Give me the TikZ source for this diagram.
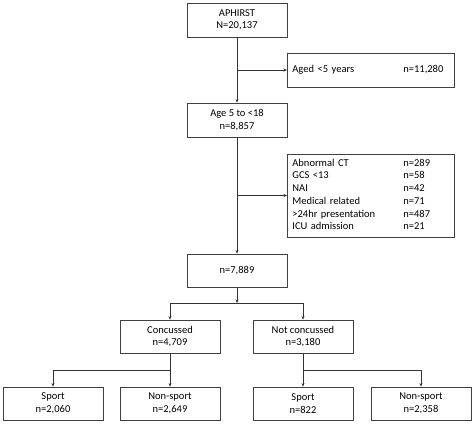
\documentclass[tikz,border=0pt]{standalone}
\usepackage{fontspec}
\setmainfont{Carlito}
\usetikzlibrary{arrows.meta}
\begin{document}
\begin{tikzpicture}[x=1pt,y=-1pt,
  box/.style={draw=black!75,line width=0.8pt,minimum width=100pt,minimum height=33pt,align=center,inner sep=0pt,font=\fontsize{10.5}{12.5}\selectfont},
  sidebox/.style={draw=black!75,line width=0.8pt,text width=157pt,inner xsep=5pt,inner ysep=3pt,align=left,anchor=west,font=\fontsize{10.5}{12.7}\selectfont},
  conn/.style={draw=black!80,line width=0.8pt},
  arr/.style={conn,-{Stealth[length=3.5pt,width=3pt]}}]
\useasboundingbox (0,0) rectangle (474,424);
\node[box,minimum height=34pt] (aph) at (237,20) {APHIRST\\N=20,137};
\node[sidebox,minimum height=34pt] (aged) at (287,70) {\begin{tabular}{@{}p{111pt}@{}l@{}}Aged <5 years & n=11,280\end{tabular}};
\node[box,minimum height=34pt] (age) at (237,120) {Age 5 to <18\\n=8,857};
\node[sidebox,minimum height=83pt] (excl) at (287,195.5) {\begin{tabular}{@{}p{111pt}@{}l@{}}Abnormal CT & n=289\\ GCS <13 & n=58\\ NAI & n=42\\ Medical related & n=71\\ >24hr presentation & n=487\\ ICU admission & n=21\end{tabular}};
\node[box] (all) at (237,270.5) {n=7,889};
\node[box] (conc) at (170,336.5) {Concussed\\n=4,709};
\node[box] (nconc) at (303,336.5) {Not concussed\\n=3,180};
\node[box] (s1) at (53,403.5) {Sport\\n=2,060};
\node[box] (ns1) at (170,403.5) {Non-sport\\n=2,649};
\node[box] (s2) at (303,403.5) {Sport\\n=822};
\node[box] (ns2) at (421,403.5) {Non-sport\\n=2,358};
\coordinate (b1) at (237,70);
\coordinate (b2) at (237,195.5);
\coordinate (b3) at (237,303);
\coordinate (b3l) at (170,303);
\coordinate (b3r) at (303,303);
\coordinate (b4) at (170,370);
\coordinate (b4l) at (53,370);
\coordinate (b5) at (303,370);
\coordinate (b5r) at (421,370);
\draw[arr] (aph.south) -- (age.north);
\draw[arr] (b1) -- (aged.west);
\draw[arr] (age.south) -- (all.north);
\draw[arr] (b2) -- (excl.west);
\draw[arr] (all.south) -- (b3);
\draw[conn] (b3l) -- (b3r);
\draw[arr] (b3l) -- (conc.north);
\draw[arr] (b3r) -- (nconc.north);
\draw[arr] (conc.south) -- (ns1.north);
\draw[arr] (b4) -- (b4l) -- (s1.north);
\draw[arr] (nconc.south) -- (s2.north);
\draw[arr] (b5) -- (b5r) -- (ns2.north);
\end{tikzpicture}
\end{document}
